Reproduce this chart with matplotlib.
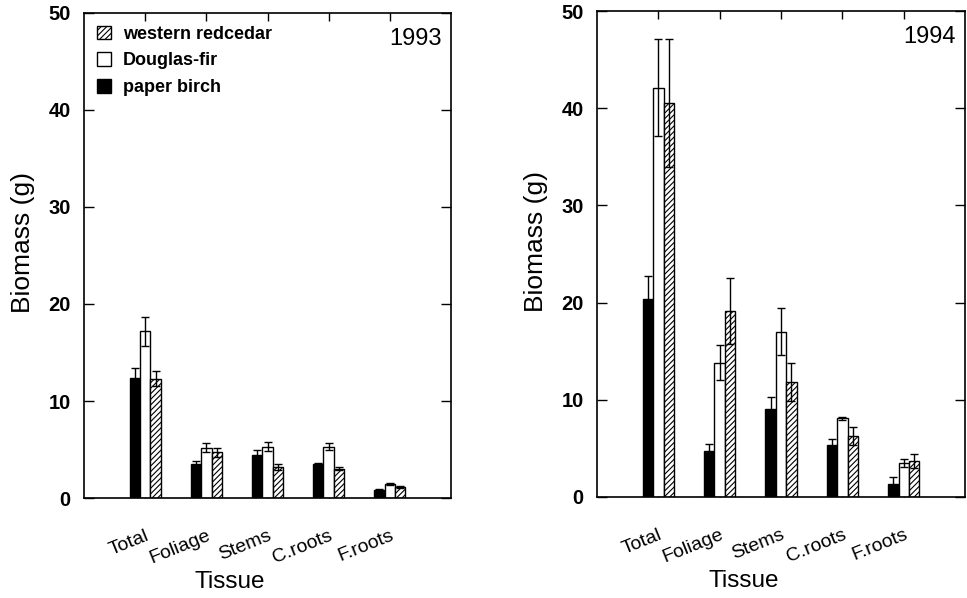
import numpy as np
import matplotlib
matplotlib.use("Agg")
import matplotlib.pyplot as plt
from matplotlib.patches import Patch

plt.rcParams["font.family"] = ["Liberation Sans", "DejaVu Sans"]
plt.rcParams["hatch.linewidth"] = 0.8

tejidos = ["Total", "Foliage", "Stems", "C.roots", "F.roots"]
especies = ["paper birch", "Douglas-fir", "western redcedar"]

# 1993
birch_93 = [12.4, 3.5, 4.4, 3.5, 0.8]
birch_93_err = [1.0, 0.3, 0.5, 0.15, 0.1]
fir_93 = [17.2, 5.2, 5.3, 5.3, 1.4]
fir_93_err = [1.5, 0.5, 0.5, 0.4, 0.1]
cedar_93 = [12.3, 4.7, 3.2, 3.0, 1.1]
cedar_93_err = [0.8, 0.5, 0.3, 0.15, 0.1]

# 1994
birch_94 = [20.4, 4.7, 9.05, 5.3, 1.3]
birch_94_err = [2.3, 0.8, 1.25, 0.7, 0.8]
fir_94 = [42.1, 13.8, 17.0, 8.1, 3.5]
fir_94_err = [5.0, 1.8, 2.4, 0.15, 0.4]
cedar_94 = [40.5, 19.1, 11.8, 6.3, 3.7]
cedar_94_err = [6.6, 3.4, 1.95, 0.9, 0.7]

estilos = [
    dict(facecolor="black", hatch=None),
    dict(facecolor="white", hatch=None),
    dict(facecolor="white", hatch="//////"),
]


def panel(ax, series, errores, anio):
    x = np.arange(1, len(tejidos) + 1)
    ancho = 0.17
    for i, (vals, errs) in enumerate(zip(series, errores)):
        pos = x + (i - 1) * ancho
        ax.bar(pos, vals, width=ancho, edgecolor="black", linewidth=1.0,
               zorder=2, **estilos[i])
        ax.errorbar(pos, vals, yerr=errs, fmt="none", ecolor="black",
                    elinewidth=1.0, capsize=3, capthick=1.0, zorder=3)

    ax.set_xlim(0, 6)
    ax.set_ylim(0, 50)
    ax.set_yticks(range(0, 51, 10))
    ax.set_xticks(x)
    ax.set_xticklabels(tejidos, rotation=22, ha="right", va="top",
                       rotation_mode="anchor", fontsize=14)
    for lab in ax.get_yticklabels():
        lab.set_fontweight("bold")
        lab.set_fontsize(14.5)

    ax.tick_params(axis="y", direction="in", length=7, width=1, left=True,
                   right=True, pad=9.5)
    ax.tick_params(axis="x", direction="in", length=6, width=1, top=True,
                   bottom=True, pad=21)
    for s in ax.spines.values():
        s.set_linewidth(1.2)

    ax.set_ylabel("Biomass (g)", fontsize=19)
    ax.yaxis.set_label_coords(-0.133, 0.526)
    ax.set_xlabel("Tissue", fontsize=17.5)
    ax.xaxis.set_label_coords(0.398, -0.15)
    ax.text(0.975, 0.97, anio, transform=ax.transAxes, ha="right",
            va="top", fontsize=17)


fig = plt.figure(figsize=(9.67, 5.98), dpi=100)
ax1 = fig.add_axes([0.0869, 0.1672, 0.3795, 0.8111])
ax2 = fig.add_axes([0.6174, 0.1689, 0.3806, 0.8127])

panel(ax1, [birch_93, fir_93, cedar_93],
      [birch_93_err, fir_93_err, cedar_93_err], "1993")
panel(ax2, [birch_94, fir_94, cedar_94],
      [birch_94_err, fir_94_err, cedar_94_err], "1994")

handles = [Patch(edgecolor="black", linewidth=1.0, **estilos[i])
           for i in (2, 1, 0)]
ax1.legend(handles, [especies[i] for i in (2, 1, 0)], loc="upper left",
           frameon=False, prop=dict(weight="bold", size=13),
           handlelength=0.8, handleheight=0.8, handletextpad=0.66,
           labelspacing=0.52, borderaxespad=0.3, bbox_to_anchor=(0.0, 1.0))

fig.savefig("out.png", dpi=100)
